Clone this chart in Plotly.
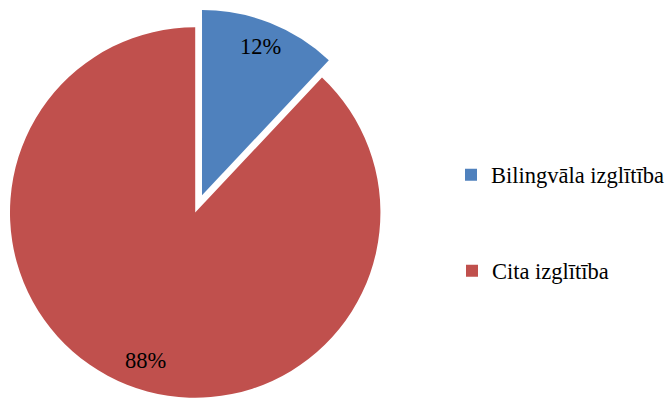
import math
import plotly.graph_objects as go

# Data
labels = ["Bilingvāla izglītība", "Cita izglītība"]
values = [12, 88]
colors = ["#4F81BD", "#C0504D"]

W, H = 670, 398
FONT = "Liberation Serif"
FONT_SIZE = 22.5

# Pie geometry in pixels
cx, cy, r = 195.5, 212.5, 185.5
pull = 0.1  # offset of the first slice, as a fraction of the radius

total = sum(values)
starts, acc = [], 0.0
for v in values:
    starts.append(acc)
    acc += v / total * 360
mids = [s + v / total * 180 for s, v in zip(starts, values)]


def unit(deg):
    a = math.radians(deg)
    return math.sin(a), -math.cos(a)


def domain(px, py):
    return dict(
        x=[max(0, (px - r) / W), min(1, (px + r) / W)],
        y=[max(0, (H - (py + r)) / H), min(1, (H - (py - r)) / H)],
    )


ux, uy = unit(mids[0])
bx, by = cx + pull * r * ux, cy + pull * r * uy
centres = [(bx, by), (cx, cy)]

transparent = "rgba(0,0,0,0)"
fig = go.Figure()

# exploded first slice and main pie (second slice)
for i, (px, py) in enumerate(centres):
    slice_colors = [c if j == i else transparent for j, c in enumerate(colors)]
    fig.add_trace(go.Pie(
        labels=labels, values=values, sort=False, direction="clockwise",
        rotation=0, marker=dict(colors=slice_colors, line=dict(width=0)),
        textinfo="none", hoverinfo="label+percent", showlegend=False,
        domain=domain(px, py),
    ))

# percentage labels
label_r = [0.86, 0.84]
label_shift = [0, 3]  # small tangential nudge, in degrees
for i, v in enumerate(values):
    px, py = centres[i]
    dx, dy = unit(mids[i] - label_shift[i])
    lx, ly = px + label_r[i] * r * dx, py + label_r[i] * r * dy
    fig.add_annotation(
        x=lx / W, y=1 - ly / H, xref="paper", yref="paper",
        text=f"{round(100 * v / total)}%", showarrow=False,
        font=dict(family=FONT, size=FONT_SIZE, color="black"),
        xanchor="center", yanchor="middle",
    )

# legend entries, one legend per item
legend_names = ["legend", "legend2"]
legend_y = [175, 271]
for name, lab, col in zip(legend_names, labels, colors):
    fig.add_trace(go.Scatter(
        x=[None], y=[None], mode="markers", name=lab, legend=name,
        marker=dict(symbol="square", size=12, color=col),
    ))

legend_style = dict(
    x=452 / W, xanchor="left", yanchor="middle",
    font=dict(family=FONT, size=FONT_SIZE, color="black"),
    bgcolor="rgba(0,0,0,0)", borderwidth=0,
)

fig.update_layout(
    width=W, height=H,
    margin=dict(l=0, r=0, t=0, b=0),
    paper_bgcolor="white", plot_bgcolor="white",
    font=dict(family=FONT, size=FONT_SIZE, color="black"),
    xaxis=dict(visible=False), yaxis=dict(visible=False),
    legend=dict(y=1 - legend_y[0] / H, **legend_style),
    legend2=dict(y=1 - legend_y[1] / H, **legend_style),
)

fig.write_html("out.html")
